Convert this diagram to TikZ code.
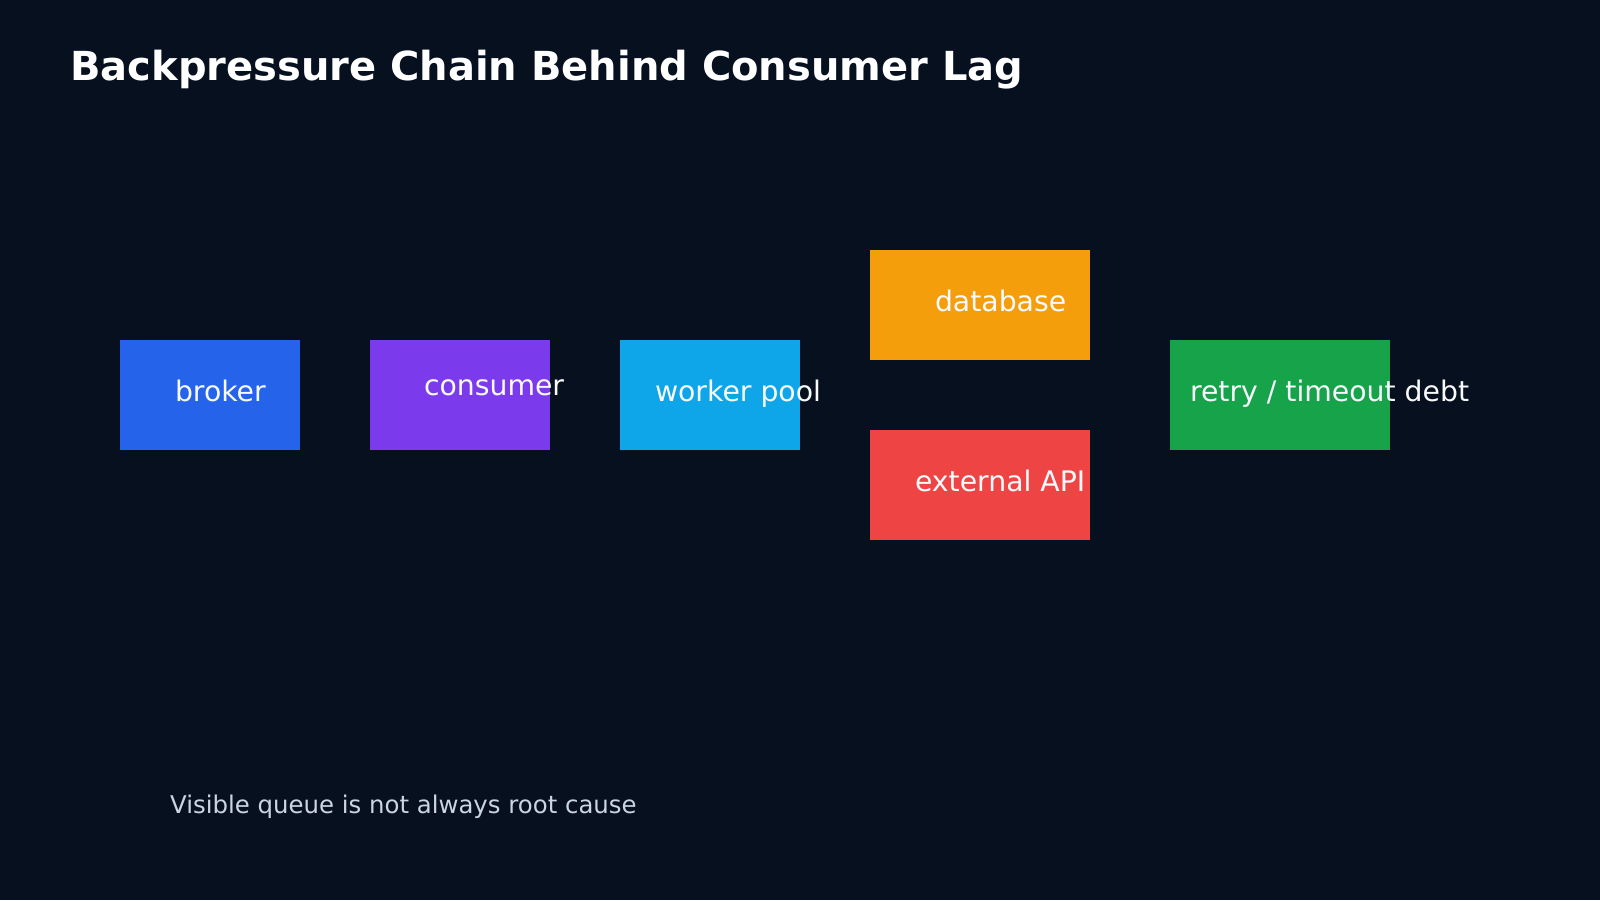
\documentclass[tikz,border=0pt]{standalone}
\usepackage{fontspec}
\setmainfont{DejaVu Sans}
\definecolor{bg}{HTML}{07101F}
\definecolor{cbroker}{HTML}{2563EB}
\definecolor{cconsumer}{HTML}{7C3AED}
\definecolor{cworker}{HTML}{0EA5E9}
\definecolor{cdb}{HTML}{F59E0B}
\definecolor{capi}{HTML}{EF4444}
\definecolor{cretry}{HTML}{16A34A}
\definecolor{txt}{HTML}{F8FAFC}
\definecolor{note}{HTML}{CBD5E1}
\begin{document}
\begin{tikzpicture}[x=1pt,y=-1pt,
  box/.style={draw=none,inner sep=0pt,outer sep=0pt,anchor=north west},
  lbl/.style={anchor=base west,inner sep=0pt,outer sep=0pt,text=txt,font=\fontsize{28.3}{34}\selectfont}]
\fill[bg] (0,0) rectangle (1600,900);
\useasboundingbox (0,0) rectangle (1600,900);
\node[anchor=base west,inner sep=0pt,text=white,font=\bfseries\fontsize{40}{48}\selectfont] (title) at (70,80) {Backpressure Chain Behind Consumer Lag};
\node[box,fill=cbroker,minimum width=180pt,minimum height=110pt] (broker) at (120,340) {};
\node[box,fill=cconsumer,minimum width=180pt,minimum height=110pt] (consumer) at (370,340) {};
\node[box,fill=cworker,minimum width=180pt,minimum height=110pt] (worker) at (620,340) {};
\node[box,fill=cdb,minimum width=220pt,minimum height=110pt] (db) at (870,250) {};
\node[box,fill=capi,minimum width=220pt,minimum height=110pt] (api) at (870,430) {};
\node[box,fill=cretry,minimum width=220pt,minimum height=110pt] (retry) at (1170,340) {};
\node[lbl] (tbroker) at (175,401) {broker};
\node[lbl] (tconsumer) at (424,395) {consumer};
\node[lbl] (tworker) at (655,401) {worker pool};
\node[lbl] (tdb) at (935,311) {database};
\node[lbl] (tapi) at (915,491) {external API};
\node[lbl] (tretry) at (1190,401) {retry / timeout debt};
\node[anchor=base west,inner sep=0pt,text=note,font=\fontsize{24.4}{29}\selectfont] (footer) at (170,813) {Visible queue is not always root cause};
\end{tikzpicture}
\end{document}
